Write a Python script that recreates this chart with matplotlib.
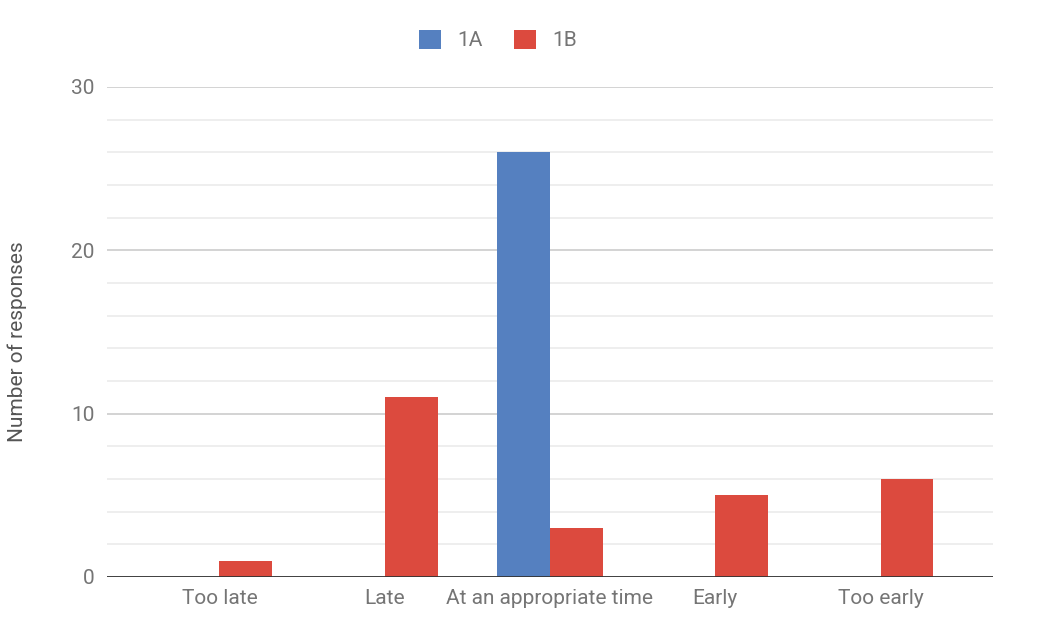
import matplotlib.pyplot as plt
import numpy as np

# Data
categories = ['Too late', 'Late', 'At an appropriate time', 'Early', 'Too early']
series_1a = [0, 0, 26, 0, 0]
series_1b = [1, 11, 3, 5, 6]
y_ticks = [0, 10, 20, 30]

blue = '#5580c0'
red = '#dc4a3e'
text_col = '#757575'

plt.rcParams['font.family'] = ['Roboto', 'DejaVu Sans']

fig = plt.figure(figsize=(10.38, 6.28), dpi=100)
ax = fig.add_axes([107 / 1038, 1 - 577 / 628, 886 / 1038, 490 / 628])

x = np.arange(len(categories))
w = 0.32
ax.bar(x - w / 2, series_1a, w, color=blue, label='1A', zorder=3)
ax.bar(x + w / 2, series_1b, w, color=red, label='1B', zorder=3)

ax.set_xlim(-0.68, 4.68)
ax.set_ylim(0, 30)

# Gridlines: major every 10, minor every 2
ax.set_yticks(y_ticks)
ax.set_yticks(np.arange(0, 31, 2), minor=True)
ax.grid(axis='y', which='major', color='#cccccc', linewidth=1.2, zorder=0)
ax.grid(axis='y', which='minor', color='#ebebeb', linewidth=1.2, zorder=0)
ax.axhline(0, color='#333333', linewidth=2, zorder=4)

ax.set_xticks(x)
ax.set_xticklabels(categories)
ax.tick_params(axis='both', which='both', length=0, labelsize=15, colors=text_col)
ax.tick_params(axis='x', pad=9)
ax.tick_params(axis='y', pad=9)

for s in ax.spines.values():
    s.set_visible(False)

fig.text(17 / 1038, 1 - 342 / 628, 'Number of responses', rotation=90,
         ha='center', va='center', fontsize=15, color='#555555')

fig.legend(loc='center', bbox_to_anchor=(498 / 1038, 1 - 40 / 628), ncol=2,
           frameon=False, fontsize=15, handlelength=1.05, handleheight=1.05,
           columnspacing=1.5, handletextpad=0.8, labelcolor=text_col)

fig.savefig('out.png', dpi=100)
